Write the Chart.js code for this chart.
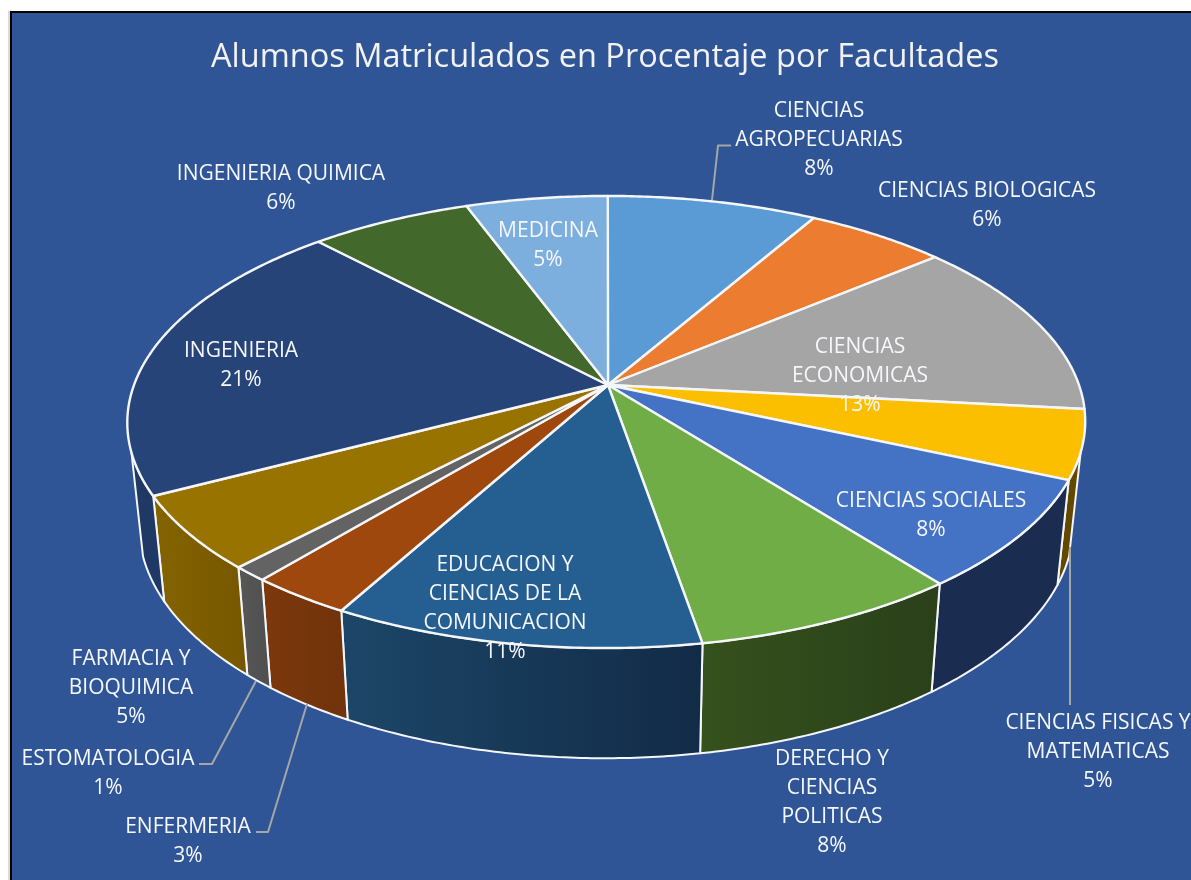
<!DOCTYPE html>
<html>
<head>
<meta charset="utf-8">
<title>Alumnos Matriculados</title>
<script src="https://cdn.jsdelivr.net/npm/chart.js@4"></script>
<style>
  html, body { margin: 0; background: #fff; }
  canvas { display: block; }
</style>
</head>
<body>
<canvas id="myChart" width="1191" height="880"></canvas>
<script>
const chartTitle = 'Alumnos Matriculados en Procentaje por Facultades';
const categories = [
  ['CIENCIAS', 'AGROPECUARIAS'],
  ['CIENCIAS BIOLOGICAS'],
  ['CIENCIAS', 'ECONOMICAS'],
  ['CIENCIAS FISICAS Y', 'MATEMATICAS'],
  ['CIENCIAS SOCIALES'],
  ['DERECHO Y', 'CIENCIAS', 'POLITICAS'],
  ['EDUCACION Y', 'CIENCIAS DE LA', 'COMUNICACION'],
  ['ENFERMERIA'],
  ['ESTOMATOLOGIA'],
  ['FARMACIA Y', 'BIOQUIMICA'],
  ['INGENIERIA'],
  ['INGENIERIA QUIMICA'],
  ['MEDICINA']
];
// slice sizes, printed labels are the rounded ones it shows
const values = [8.3, 5.6, 12.8, 4.9, 7.8, 7.8, 10.7, 3.0, 1.05, 5.3, 20.7, 6.4, 5.6];
const percentLabels = ['8%', '6%', '13%', '5%', '8%', '8%', '11%', '3%', '1%', '5%', '21%', '6%', '5%'];

const topColors = ['#5B9BD5', '#EB7C30', '#A5A5A5', '#FBBF00', '#4472C4', '#70AD47', '#255E91',
  '#9E480E', '#636363', '#997300', '#264478', '#43682B', '#7CAFDD'];
const wallFrom = ['#3F6D96', '#A65722', '#737373', '#634900', '#1A2D50', '#35511C', '#1C4668',
  '#7D380C', '#575757', '#856300', '#1F3864', '#2F491E', '#57799B'];
const wallTo = ['#3F6D96', '#A65722', '#737373', '#634900', '#1A2D50', '#2A401A', '#122B47',
  '#70330B', '#4F4F4F', '#755700', '#1F3864', '#2F491E', '#57799B'];

// center of first label line, per slice
const labelX = [819, 987, 860, 1098, 931, 832, 505, 188, 108, 131, 241, 281, 548];
const labelY = [111, 191, 347, 723, 501, 759, 565, 827, 759, 659, 351, 174, 231];
const lineStep = 29;
const labelFont = '21px "Open Sans"';

const leaders = [
  [[731, 145.5], [718, 145.5], [712, 200]],
  [[1070, 705], [1070, 547]],
  [[199, 764], [212, 764], [256, 681]],
  [[256, 832], [268, 832], [307, 704]]
];

// pie plane seen in perspective: k is the tilt, top and bottom are the two rims
const k = 0.1637;
const apex = [608, 385];
const topRim = { x0: 606.5, y0: 385, a: 472.5, b: 220, skew: -1.5 };
const bottomRim = { x0: 606.5, y0: 486.8, a: 461, b: 227, skew: -1.5 };
// only this part of the outer wall faces the viewer (degrees, clockwise from east)
const wallStart = 17, wallEnd = 163;

function project(rim, ang) {
  const w = 1 - k * Math.sin(ang);
  return [rim.x0 + (rim.a * Math.cos(ang) + rim.skew * Math.sin(ang)) / w, rim.y0 + rim.b * Math.sin(ang) / w];
}

function rimPoints(rim, from, to) {
  const pts = [];
  const n = Math.max(2, Math.ceil((to - from) / 0.01));
  for (let i = 0; i <= n; i++) {
    pts.push(project(rim, from + (to - from) * i / n));
  }
  return pts;
}

function tracePath(c, pts) {
  pts.forEach((p, i) => i ? c.lineTo(p[0], p[1]) : c.moveTo(p[0], p[1]));
}

const pie3d = {
  id: 'pie3d',
  beforeDraw(chart) {
    const c = chart.ctx;
    c.fillStyle = '#fff';
    c.fillRect(0, 0, chart.width, chart.height);
    c.fillStyle = '#D9D9D9';
    c.fillRect(8, 11, 2, chart.height);
    c.fillStyle = '#000';
    c.fillRect(10, 11, chart.width, chart.height);
    c.fillStyle = '#2F5597';
    c.fillRect(12, 13, chart.width, chart.height);
  },
  beforeDatasetsDraw(chart) {
    const c = chart.ctx;
    const arcs = chart.getDatasetMeta(0).data;
    c.save();
    c.lineJoin = 'round';
    c.strokeStyle = '#F4F6FA';

    // outer wall first, only the visible part of it
    const lo = wallStart * Math.PI / 180, hi = wallEnd * Math.PI / 180;
    arcs.forEach((arc, i) => {
      const s = Math.max(arc.startAngle, lo), e = Math.min(arc.endAngle, hi);
      if (e <= s) return;
      const upper = rimPoints(topRim, s, e);
      const lower = rimPoints(bottomRim, s, e).reverse();
      const xs = upper.concat(lower).map(p => p[0]);
      const grad = c.createLinearGradient(Math.min(...xs), 0, Math.max(...xs), 0);
      grad.addColorStop(0, wallFrom[i]);
      grad.addColorStop(1, wallTo[i]);
      c.beginPath();
      tracePath(c, upper.concat(lower));
      c.closePath();
      c.fillStyle = grad;
      c.fill();
      c.lineWidth = 2;
      c.stroke();
    });

    // top face
    arcs.forEach((arc, i) => {
      c.beginPath();
      tracePath(c, [apex].concat(rimPoints(topRim, arc.startAngle, arc.endAngle)));
      c.closePath();
      c.fillStyle = topColors[i];
      c.fill();
      c.lineWidth = 2.4;
      c.stroke();
    });

    c.strokeStyle = '#A6A6A6';
    c.lineWidth = 2;
    leaders.forEach(line => {
      c.beginPath();
      tracePath(c, line);
      c.stroke();
    });

    c.fillStyle = '#F5F7FB';
    c.font = labelFont;
    c.textAlign = 'center';
    c.textBaseline = 'middle';
    categories.forEach((lines, i) => {
      lines.concat(percentLabels[i]).forEach((txt, j) => {
        c.fillText(txt, labelX[i], labelY[i] + j * lineStep);
      });
    });
    c.restore();
    return false;
  }
};

new Chart(document.getElementById('myChart'), {
  type: 'pie',
  data: {
    labels: categories,
    datasets: [{ data: values, backgroundColor: topColors }]
  },
  options: {
    responsive: false,
    animation: false,
    layout: { padding: { left: 19, top: 38 } },
    plugins: {
      legend: { display: false },
      tooltip: { enabled: false },
      title: {
        display: true,
        text: chartTitle,
        color: '#F2F2F2',
        font: { family: '"Open Sans"', size: 32.5, weight: 'normal' },
        padding: 0
      }
    }
  },
  plugins: [pie3d]
});
</script>
</body>
</html>
